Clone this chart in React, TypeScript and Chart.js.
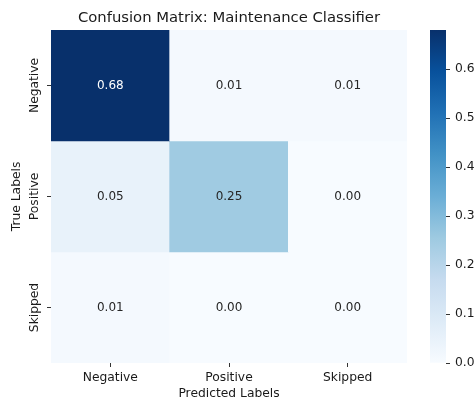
import React, { useEffect, useRef } from "react";
import { Chart, registerables } from "chart.js";

Chart.register(...registerables);

const chartTitle = "Confusion Matrix: Maintenance Classifier";
const xAxisTitle = "Predicted Labels";
const yAxisTitle = "True Labels";
const predictedLabels = ["Negative", "Positive", "Skipped"];
const trueLabels = ["Negative", "Positive", "Skipped"];
const rowNegative = [0.68, 0.01, 0.01];
const rowPositive = [0.05, 0.25, 0.0];
const rowSkipped = [0.01, 0.0, 0.0];
const matrixRows = [rowNegative, rowPositive, rowSkipped];
const colorbarTicks = [0.0, 0.1, 0.2, 0.3, 0.4, 0.5, 0.6];
const vmin = 0;
const vmax = 0.68;

const FONT = "DejaVu Sans";
const BLUES: number[][] = [
  [247, 251, 255],
  [222, 235, 247],
  [198, 219, 239],
  [158, 202, 225],
  [107, 174, 214],
  [66, 146, 198],
  [33, 113, 181],
  [8, 81, 156],
  [8, 48, 107],
];

function bluesRGB(t: number): number[] {
  const c = Math.max(0, Math.min(1, t)) * (BLUES.length - 1);
  const i = Math.min(BLUES.length - 2, Math.floor(c));
  const f = c - i;
  return [0, 1, 2].map((k) => BLUES[i][k] + (BLUES[i + 1][k] - BLUES[i][k]) * f);
}
function blues(t: number): string {
  const [r, g, b] = bluesRGB(t);
  return `rgb(${Math.round(r)},${Math.round(g)},${Math.round(b)})`;
}
function norm(v: number) {
  return (v - vmin) / (vmax - vmin);
}
function textColorFor(v: number) {
  const rgb = bluesRGB(norm(v)).map((c) => {
    const s = c / 255;
    return s <= 0.03928 ? s / 12.92 : Math.pow((s + 0.055) / 1.055, 2.4);
  });
  const lum = 0.2126 * rgb[0] + 0.7152 * rgb[1] + 0.0722 * rgb[2];
  return lum > 0.408 ? "#262626" : "#ffffff";
}

const annotatePlugin = {
  id: "cellAnnotations",
  afterDatasetsDraw(chart: any) {
    const c = chart.ctx;
    c.save();
    c.font = `12px "${FONT}"`;
    c.textAlign = "center";
    c.textBaseline = "middle";
    chart.data.datasets.forEach((ds: any, di: number) => {
      const meta = chart.getDatasetMeta(di);
      meta.data.forEach((el: any, i: number) => {
        const v = matrixRows[di][i];
        const p = el.getProps(["x", "y", "base"], true);
        c.fillStyle = textColorFor(v);
        c.fillText(v.toFixed(2), p.x, (p.y + p.base) / 2);
      });
    });
    c.restore();
  },
};

export default function App() {
  const mainRef = useRef<HTMLCanvasElement>(null);
  const cbRef = useRef<HTMLCanvasElement>(null);

  useEffect(() => {
    const tickFont = { family: FONT, size: 12.3 };
    const textColor = "#1a1a1a";
    const main = new Chart(mainRef.current!, {
      type: "bar",
      data: {
        labels: predictedLabels,
        datasets: matrixRows.map((row, r) => ({
          label: trueLabels[r],
          data: row.map(() => [r, r + 1]),
          backgroundColor: row.map((v) => blues(norm(v))),
          borderWidth: 0,
          barPercentage: 1,
          categoryPercentage: 1,
          grouped: false,
        })) as any,
      },
      options: {
        responsive: false,
        animation: false,
        layout: { padding: { left: 0, right: 17, top: 0, bottom: 0 } },
        plugins: {
          legend: { display: false },
          tooltip: { enabled: false },
          title: {
            display: true,
            text: chartTitle,
            color: textColor,
            font: { family: FONT, size: 14.8, weight: "normal" },
            padding: { top: 9, bottom: 3.2 },
          },
        },
        scales: {
          x: {
            type: "category",
            grid: {
              display: true,
              drawOnChartArea: false,
              drawTicks: true,
              tickLength: 4,
              offset: false,
              color: "#333",
            },
            border: { display: false },
            ticks: { font: tickFont, color: textColor, padding: 3, maxRotation: 0 },
            title: {
              display: true,
              text: xAxisTitle,
              color: textColor,
              font: tickFont,
              padding: { top: 0, bottom: 2 },
            },
            afterFit: (s: any) => {
              s.height = 40;
            },
          },
          y: {
            type: "linear",
            min: 0,
            max: trueLabels.length,
            reverse: true,
            afterBuildTicks: (s: any) => {
              s.ticks = trueLabels.map((_, i) => ({ value: i + 0.5 }));
            },
            grid: {
              display: true,
              drawOnChartArea: false,
              drawTicks: true,
              tickLength: 4,
              color: "#333",
            },
            border: { display: false },
            ticks: {
              font: tickFont,
              color: textColor,
              minRotation: 90,
              maxRotation: 90,
              crossAlign: "center",
              padding: -15,
              callback: (_v: any, i: number) => trueLabels[i],
            },
            title: {
              display: true,
              text: yAxisTitle,
              color: textColor,
              font: tickFont,
              padding: { top: 9, bottom: 0 },
            },
            afterFit: (s: any) => {
              s.width = 51;
            },
          },
          yR: {
            type: "linear",
            position: "right",
            display: true,
            grid: { display: false },
            border: { display: false },
            ticks: { display: false },
            afterFit: (s: any) => {
              s.width = 51;
            },
          },
        },
      } as any,
      plugins: [annotatePlugin],
    });

    const cb = new Chart(cbRef.current!, {
      type: "bar",
      data: {
        labels: [""],
        datasets: [
          {
            data: [[vmin, vmax]] as any,
            backgroundColor: (ctx: any) => {
              const { chart } = ctx;
              const area = chart.chartArea;
              if (!area) return blues(0.5);
              const g = chart.ctx.createLinearGradient(0, area.bottom, 0, area.top);
              BLUES.forEach((_, i) => {
                const t = i / (BLUES.length - 1);
                g.addColorStop(t, blues(t));
              });
              return g;
            },
            borderWidth: 0,
            barPercentage: 1,
            categoryPercentage: 1,
          },
        ],
      },
      options: {
        responsive: false,
        animation: false,
        layout: { padding: { left: 10, right: 0, top: 30, bottom: 40 } },
        plugins: { legend: { display: false }, tooltip: { enabled: false } },
        scales: {
          x: { display: false },
          y: {
            type: "linear",
            position: "right",
            min: vmin,
            max: vmax,
            afterBuildTicks: (s: any) => {
              s.ticks = colorbarTicks.map((v) => ({ value: v }));
            },
            grid: {
              display: true,
              drawOnChartArea: false,
              drawTicks: true,
              tickLength: 4,
              color: "#333",
            },
            border: { display: false },
            ticks: {
              font: tickFont,
              color: textColor,
              padding: 5,
              callback: (v: any) => Number(v).toFixed(1),
            },
            afterFit: (s: any) => {
              s.width = 29;
            },
          },
        },
      } as any,
    });

    return () => {
      main.destroy();
      cb.destroy();
    };
  }, []);

  return (
    <div style={{ position: "absolute", left: 0, top: 0, width: 475, height: 403 }}>
      <canvas
        ref={mainRef}
        width={475}
        height={403}
        style={{ position: "absolute", left: 0, top: 0, width: 475, height: 403 }}
      />
      <canvas
        ref={cbRef}
        width={55}
        height={403}
        style={{ position: "absolute", left: 420, top: 0, width: 55, height: 403 }}
      />
    </div>
  );
}
